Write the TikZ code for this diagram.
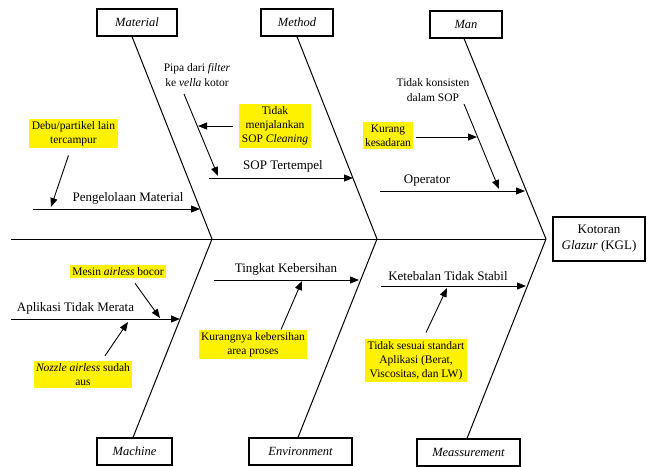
\documentclass[tikz,border=0pt]{standalone}
\usepackage{fontspec}
\setmainfont{Liberation Serif}
\usetikzlibrary{positioning,arrows.meta}
\begin{document}
\begin{tikzpicture}[x=1pt,y=-1pt,
    category/.style={draw,line width=1.1pt,minimum height=27pt,inner sep=2pt,font=\fontsize{12.5}{15}\selectfont\itshape},
    cause/.style={fill=yellow,align=center,inner sep=2.5pt,font=\fontsize{11.5}{14}\selectfont},
    note/.style={align=center,inner sep=1pt,font=\fontsize{11.5}{15}\selectfont},
    lbl/.style={inner sep=1pt,font=\fontsize{13}{16}\selectfont},
    bone/.style={line width=1pt},
    arr/.style={line width=0.9pt,-{Triangle[length=9pt,width=7pt]}}]
  \useasboundingbox (0,0) rectangle (648,466);

  \node[category,minimum width=80pt] (material) at (137,22.5) {Material};
  \node[category,minimum width=72pt] (method) at (297,22.5) {Method};
  \node[category,minimum width=72pt] (man) at (466,24.5) {Man};
  \node[category,minimum width=75pt] (machine) at (134.5,451.5) {Machine};
  \node[category,minimum width=103pt] (environment) at (300.5,451.5) {Environment};
  \node[category,minimum width=103pt] (measurement) at (468.5,452.5) {Meassurement};
  \node[draw,line width=1.1pt,minimum width=92pt,minimum height=44pt,align=center,
        inner sep=2pt,font=\fontsize{13}{16}\selectfont] (kgl) at (599,239) {Kotoran\\\textit{Glazur} (KGL)};

  \coordinate (s0) at (11,239);
  \coordinate (s1) at (212,239);
  \coordinate (s2) at (377,239);
  \coordinate (s3) at (546,239);
  \draw[bone] (s0) -- (s3);
  \draw[bone] ([xshift=-5pt]material.south) -- (s1) -- ([xshift=-1.5pt]machine.north);
  \draw[bone] (method.south) -- (s2) -- ([xshift=-2.5pt]environment.north);
  \draw[bone] ([xshift=-2pt]man.south) -- (s3) -- ([xshift=-1.5pt]measurement.north);

  \coordinate (pm-s) at (33,209);
  \coordinate (pm-e) at (200,209);
  \coordinate (pm-x) at (51,207);
  \draw[arr] (pm-s) -- (pm-e);
  \node[lbl] (pm) at (128,198) {Pengelolaan Material};
  \node[cause] (debu) at (73.5,133.5) {Debu/partikel lain\\tercampur};
  \draw[arr] ([xshift=-5pt,yshift=-7pt]debu.south) -- (pm-x);

  \coordinate (sop-s) at (209,178);
  \coordinate (sop-e) at (353,178);
  \coordinate (sop-x) at (218,176);
  \draw[arr] (sop-s) -- (sop-e);
  \node[lbl] (sop) at (283,166) {SOP Tertempel};
  \node[note] (pipa) at (197,75) {Pipa dari \textit{filter}\\ke \textit{vella} kotor};
  \coordinate (pipa-t) at (184,94);
  \coordinate (pipa-x) at (198,126);
  \draw[arr] (pipa-t) -- (sop-x);
  \node[cause] (cleaning) at (275,126) {Tidak\\menjalankan\\SOP \textit{Cleaning}};
  \draw[arr,shorten <=6pt] (cleaning.west |- pipa-x) -- (pipa-x);

  \coordinate (op-s) at (380,191);
  \coordinate (op-e) at (525,191);
  \coordinate (op-x) at (499,189);
  \draw[arr] (op-s) -- (op-e);
  \node[lbl] (op) at (427,181) {Operator};
  \node[note] (konsisten) at (433,90) {Tidak konsisten\\dalam SOP};
  \coordinate (kons-t) at (464,104);
  \coordinate (kons-x) at (477,137);
  \draw[arr] (kons-t) -- (op-x);
  \node[cause] (sadar) at (388,135.5) {Kurang\\kesadaran};
  \draw[arr,shorten <=2pt] (sadar.east |- kons-x) -- (kons-x);

  \coordinate (ap-s) at (11,319);
  \coordinate (ap-e) at (180,319);
  \coordinate (ap-x1) at (160,318);
  \coordinate (ap-x2) at (128,322);
  \draw[arr] (ap-s) -- (ap-e);
  \node[lbl] (ap) at (75.5,308) {Aplikasi Tidak Merata};
  \node[cause] (bocor) at (118,271.5) {Mesin \textit{airless} bocor};
  \draw[arr] ([xshift=17pt,yshift=-5pt]bocor.south) -- (ap-x1);
  \node[cause] (nozzle) at (83,374.5) {\textit{Nozzle airless} sudah\\aus};
  \draw[arr] ([xshift=22pt,yshift=5pt]nozzle.north) -- (ap-x2);

  \coordinate (tk-s) at (214,280);
  \coordinate (tk-e) at (359,280);
  \coordinate (tk-x) at (302,281);
  \draw[arr] (tk-s) -- (tk-e);
  \node[lbl] (tk) at (286,269) {Tingkat Kebersihan};
  \node[cause] (area) at (253,344.5) {Kurangnya kebersihan\\area proses};
  \draw[arr] ([xshift=28pt]area.north) -- (tk-x);

  \coordinate (kt-s) at (381,286);
  \coordinate (kt-e) at (526,286);
  \coordinate (kt-x) at (447,288);
  \draw[arr] (kt-s) -- (kt-e);
  \node[lbl] (kt) at (448,276) {Ketebalan Tidak Stabil};
  \node[cause] (standart) at (416,360.5) {Tidak sesuai standart\\Aplikasi (Berat,\\Viscositas, dan LW)};
  \draw[arr] ([xshift=10pt,yshift=6pt]standart.north) -- (kt-x);
\end{tikzpicture}
\end{document}
